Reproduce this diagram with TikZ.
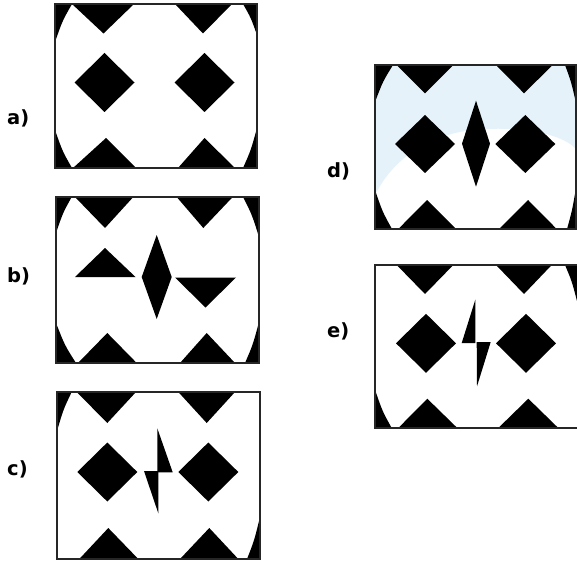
\documentclass[tikz,border=0pt]{standalone}
\usepackage{fontspec}
\newfontfamily\lblfont{DejaVu Sans}
\definecolor{wmblue}{HTML}{E6F2FA}
\tikzset{
  blk/.style={fill=black},
  frm/.style={draw=black!85, line width=1.3pt},
  lbl/.style={font=\lblfont\bfseries\fontsize{19.5}{23}\selectfont, anchor=base west, inner sep=0pt}
}
% triangle: three points
\newcommand\tri[6]{\fill[blk] (#1,#2) -- (#3,#4) -- (#5,#6) -- cycle;}
% diamond: cx cy hw hh
\newcommand\dmd[4]{\fill[blk] ({#1-#3},#2) -- (#1,{#2-#4}) -- ({#1+#3},#2) -- (#1,{#2+#4}) -- cycle;}
% corner: frame corner c, then a and b on the edges; white side bulges in slightly
\newcommand\crn[6]{\fill[blk] (#1,#2) -- (#3,#4) .. controls ({#1*0.12+#3*0.44+#5*0.44},{#2*0.12+#4*0.44+#6*0.44}) .. (#5,#6) -- cycle;}
\begin{document}
\begin{tikzpicture}[x=1pt,y=-1pt]
\useasboundingbox (0,0) rectangle (577,561);
\fill[white] (0,0) rectangle (577,561);

% ---------- a ----------
\begin{scope}[shift={(55,4)}]
  \fill[white] (0,0) rectangle (202,164);
  \tri{17}{0}{48.5}{29.5}{79}{0}
  \tri{120}{0}{148}{29.5}{177}{0}
  \dmd{49.5}{78.5}{30}{29.5}
  \dmd{149.5}{78.5}{30}{29.5}
  \tri{18}{164}{51}{134}{81}{164}
  \tri{123}{164}{149.5}{134}{180}{164}
  \crn{0}{0}{17}{0}{0}{38}
  \crn{202}{0}{188}{0}{202}{31}
  \crn{0}{164}{0}{126}{17}{164}
  \crn{202}{164}{202}{124}{188}{164}
  \draw[frm] (0,0) rectangle (202,164);
\end{scope}
\node[lbl] (la) at (7,125) {a)};

% ---------- b ----------
\begin{scope}[shift={(56,197)}]
  \fill[white] (0,0) rectangle (203,166);
  \tri{19}{0}{49}{31}{77.3}{0}
  \tri{120.7}{0}{147.3}{31}{176.7}{0}
  \tri{19}{80}{49}{51}{79.5}{80}
  \dmd{100.7}{80}{15}{42}
  \tri{119}{80.5}{149.5}{110.5}{180}{80.5}
  \tri{22}{166}{51.3}{136}{80.7}{166}
  \tri{124}{166}{150.7}{136}{179}{166}
  \crn{0}{0}{15.7}{0}{0}{36}
  \crn{203}{0}{187}{0}{203}{40}
  \crn{0}{166}{0}{126}{20}{166}
  \crn{203}{166}{203}{125}{189}{166}
  \draw[frm] (0,0) rectangle (203,166);
\end{scope}
\node[lbl] (lb) at (7,282) {b)};

% ---------- c ----------
\begin{scope}[shift={(57,392)}]
  \fill[white] (0,0) rectangle (203,167);
  \tri{19.7}{0}{50.3}{31}{79}{0}
  \tri{121.3}{0}{149.7}{31}{178}{0}
  \dmd{50.3}{80}{30}{29.5}
  \dmd{151.3}{80}{30}{29.5}
  \tri{100.3}{36.3}{115.7}{80.3}{100.3}{80.3}
  \tri{87}{79}{101.3}{79}{101.3}{121.3}
  \tri{22.3}{167}{51.3}{136}{81.3}{167}
  \tri{123}{167}{152.3}{136}{181.3}{167}
  \crn{0}{0}{14.7}{0}{0}{39}
  \crn{203}{167}{203}{125}{190}{167}
  \draw[frm] (0,0) rectangle (203,167);
\end{scope}
\node[lbl] (lc) at (7,475) {c)};

% ---------- d ----------
\begin{scope}[shift={(375,65)}]
  \fill[white] (0,0) rectangle (201,164);
  % faint watermark tint over the upper part of the panel
  \fill[wmblue] (0,0) -- (0,130) .. controls (20,90) and (60,66) .. (110,64)
     .. controls (160,62) and (190,72) .. (201,84) -- (201,0) -- cycle;
  \tri{21.7}{0}{50}{28.3}{78.3}{0}
  \tri{121}{0}{149}{28.3}{177.7}{0}
  \dmd{50}{79}{30}{29}
  \dmd{150.3}{79}{30}{29}
  \dmd{101}{78.7}{14}{43}
  \tri{23.3}{164}{52}{135}{81}{164}
  \tri{124}{164}{153}{135}{181.7}{164}
  \crn{0}{0}{18}{0}{0}{37}
  \crn{201}{0}{190}{0}{201}{38}
  \crn{0}{164}{0}{125}{17}{164}
  \crn{201}{164}{201}{123}{192}{164}
  \draw[frm] (0,0) rectangle (201,164);
\end{scope}
\node[lbl] (ld) at (327,178) {d)};

% ---------- e ----------
\begin{scope}[shift={(375,265)}]
  \fill[white] (0,0) rectangle (203,163);
  \tri{21.7}{0}{50}{29}{78.3}{0}
  \tri{121}{0}{149}{29}{176.7}{0}
  \dmd{51}{78.3}{30}{29.5}
  \dmd{151}{78.3}{30}{29.5}
  \tri{100.3}{34.7}{86.7}{78}{100.3}{78}
  \tri{101.7}{77}{115.7}{77}{102}{121.3}
  \tri{23.3}{163}{52.3}{133.7}{82.3}{163}
  \tri{123.3}{163}{153.3}{133.7}{183.3}{163}
  \crn{202}{0}{190}{0}{202}{36}
  \crn{0}{163}{0}{124.7}{16.7}{163}
  \draw[frm] (0,0) rectangle (203,163);
\end{scope}
\node[lbl] (le) at (327,337) {e)};
\end{tikzpicture}
\end{document}
